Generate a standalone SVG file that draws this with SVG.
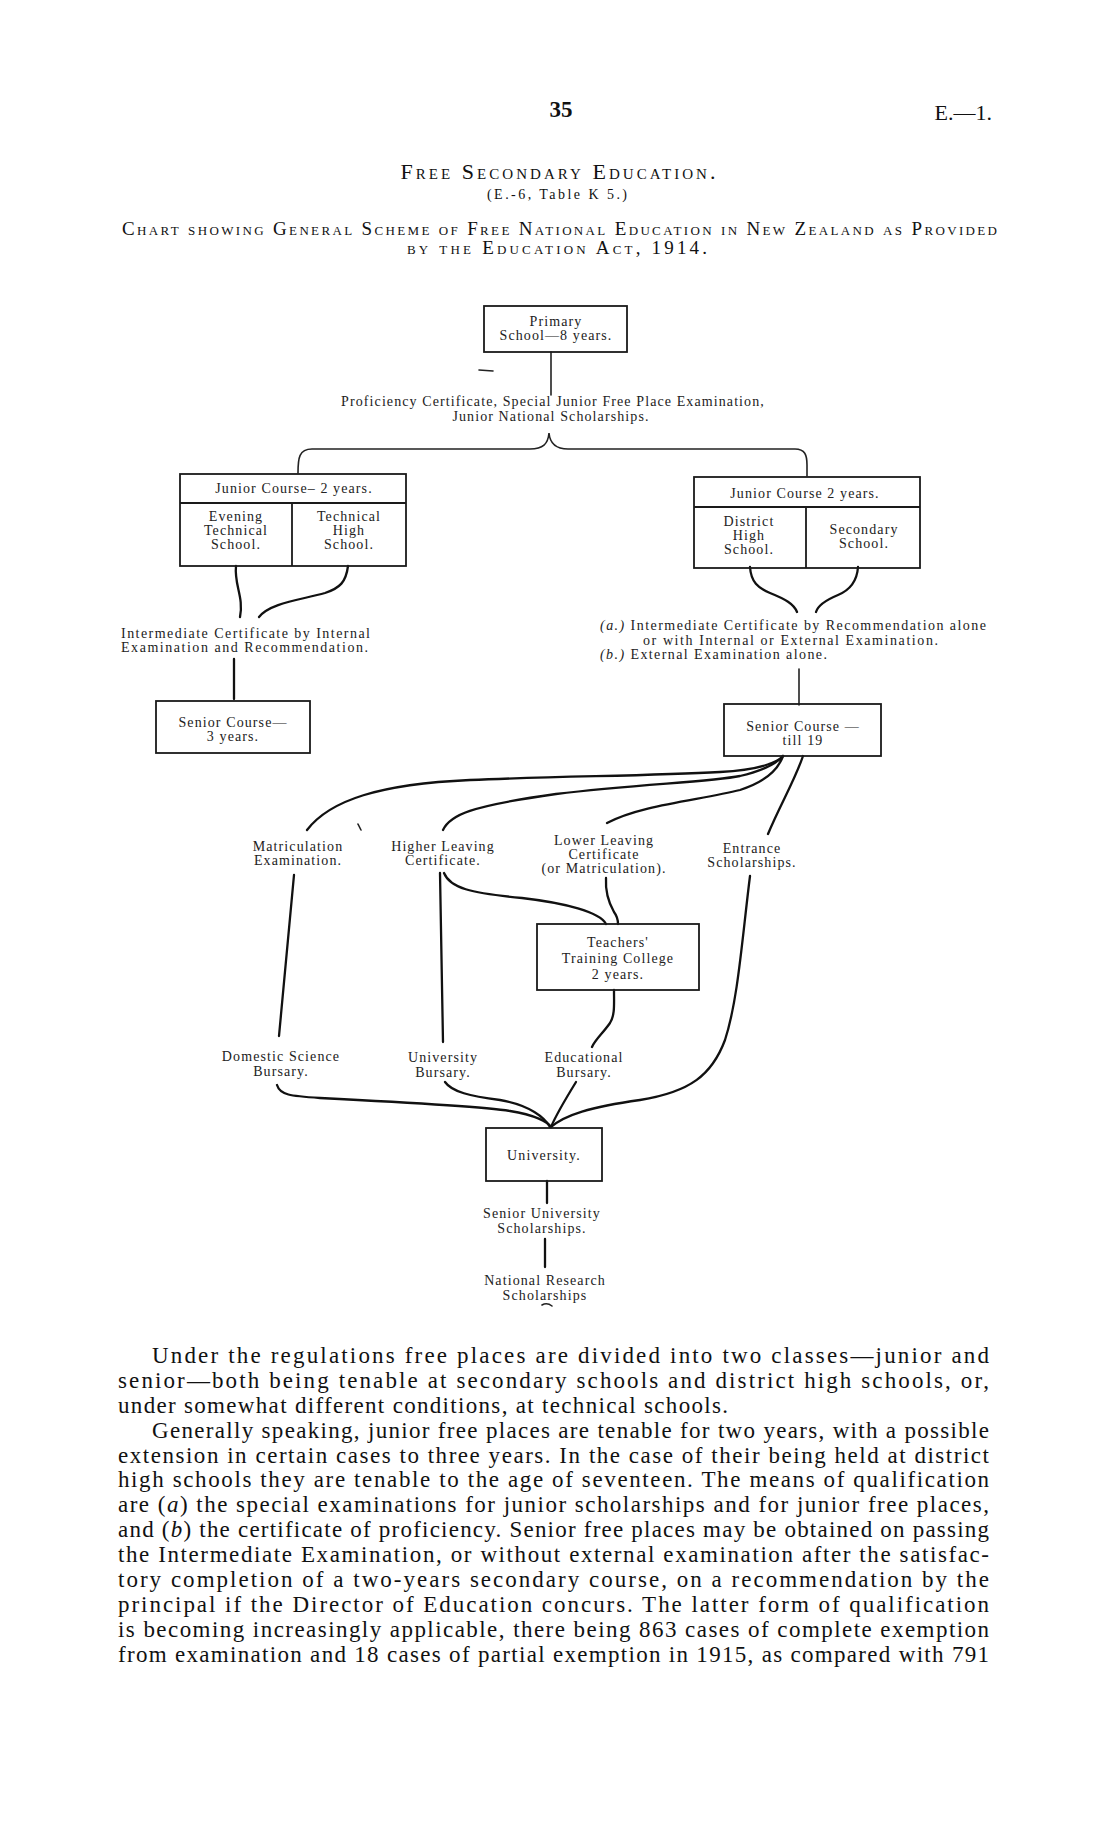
<svg xmlns="http://www.w3.org/2000/svg" width="1114" height="1835" viewBox="0 0 1114 1835">
<style>
.box{fill:none;stroke:#1a1a1a;stroke-width:1.8}
.ln{fill:none;stroke:#111;stroke-width:2.3;stroke-linecap:round}
.thin{fill:none;stroke:#222;stroke-width:1.6;stroke-linecap:round}
.lbl{font-family:"Liberation Serif",serif;font-size:14px;letter-spacing:1.1px;fill:#222;text-anchor:middle}
.lbs{font-family:"Liberation Serif",serif;font-size:14px;letter-spacing:1px;fill:#222}
.body{font-family:"Liberation Serif",serif;font-size:23px;fill:#111}
.hd{font-family:"Liberation Serif",serif;fill:#111}
.sc{font-variant:small-caps}
</style>
<rect width="1114" height="1835" fill="#fff"/>
<g id="header">
<text class="hd" x="561" y="117" font-size="23" font-weight="bold" text-anchor="middle">35</text>
<text class="hd" x="992" y="120" font-size="22" text-anchor="end">E.—1.</text>
<text class="hd sc" x="558" y="179" font-size="22" text-anchor="middle" textLength="315" lengthAdjust="spacing">Free Secondary Education.</text>
<text class="hd" x="557" y="199" font-size="14" text-anchor="middle" textLength="140" lengthAdjust="spacing">(E.-6, Table K 5.)</text>
<text class="hd sc" x="122" y="235" font-size="19" textLength="875" lengthAdjust="spacing">Chart showing General Scheme of Free National Education in New Zealand as Provided</text>
<text class="hd sc" x="557" y="254" font-size="19" text-anchor="middle" textLength="300" lengthAdjust="spacing">by the Education Act, 1914.</text>
</g>
<g id="connectors">
<path class="thin" d="M551 352 V395"/>
<path class="thin" d="M298 473 C298 458 299 449 312 449 L530 449 C543 449 548 444 549 433 C550 444 556 449 568 449 L795 449 C805 449 807 455 807 465 L807 476"/>
<path class="ln" d="M236 566 C234 585 244 597 240 617"/>
<path class="ln" d="M348 566 C346 582 340 588 325 593 C300 600 270 603 259 617"/>
<path class="ln" d="M234 659 V699"/>
<path class="ln" d="M750 567 C751 582 758 588 770 593 C785 599 794 604 797 612"/>
<path class="ln" d="M858 567 C857 582 850 590 838 595 C826 600 818 605 816 612"/>
<path class="thin" d="M799 669 V705"/>
<path class="ln" d="M307 830 C330 800 380 784 470 780 C560 776 650 776 720 772 C760 770 778 762 783 756"/>
<path class="ln" d="M443 830 C450 815 470 806 556 794 C640 784 710 782 740 776 C765 770 778 762 783 756"/>
<path class="ln" d="M607 823 C640 805 700 800 740 790 C765 782 778 770 783 756"/>
<path class="ln" d="M803 756 C795 780 780 805 768 834"/>
<path class="ln" d="M294 875 L279 1036"/>
<path class="ln" d="M440 873 L443 1042"/>
<path class="ln" d="M444 873 C450 888 470 893 522 898 C565 903 600 912 606 924"/>
<path class="ln" d="M606 878 C605 895 610 905 614 912 C617 916 618 920 618 924"/>
<path class="ln" d="M614 990 C614 1005 615 1015 610 1023 C603 1033 595 1040 592 1047"/>
<path class="ln" d="M750 876 C742 940 738 1000 725 1040 C712 1075 690 1092 640 1100 C590 1107 565 1115 551 1127"/>
<path class="ln" d="M277 1085 C280 1095 290 1096 320 1098 C400 1102 480 1106 510 1111 C535 1115 548 1122 551 1127"/>
<path class="ln" d="M445 1082 C452 1092 470 1096 500 1100 C530 1105 545 1118 550 1127"/>
<path class="ln" d="M576 1082 C568 1095 556 1115 551 1127"/>
<path class="ln" d="M547 1181 V1203"/>
<path class="ln" d="M545 1239 V1267"/>
<path class="thin" d="M479 370 L493 371"/>
<path class="thin" d="M358 824 L361 830"/>
<path class="thin" d="M542 1305 Q547 1302 552 1306"/>
</g>
<g id="primary">
<rect class="box" x="484" y="306" width="143" height="46"/>
<text class="lbl" x="556" y="326">Primary</text>
<text class="lbl" x="556" y="340">School—8 years.</text>
</g>
<g id="proficiency">
<text class="lbl" x="553" y="406">Proficiency Certificate, Special Junior Free Place Examination,</text>
<text class="lbl" x="551" y="421">Junior National Scholarships.</text>
</g>
<g id="junior-left">
<rect class="box" x="180" y="474" width="226" height="92"/>
<path class="box" d="M180 503 H406 M292 503 V566"/>
<text class="lbl" x="294" y="493">Junior Course– 2 years.</text>
<text class="lbl" x="236"><tspan x="236" y="521">Evening</tspan><tspan x="236" y="535">Technical</tspan><tspan x="236" y="549">School.</tspan></text>
<text class="lbl" x="349"><tspan x="349" y="521">Technical</tspan><tspan x="349" y="535">High</tspan><tspan x="349" y="549">School.</tspan></text>
</g>
<g id="junior-right">
<rect class="box" x="694" y="477" width="226" height="91"/>
<path class="box" d="M694 507 H920 M806 507 V568"/>
<text class="lbl" x="805" y="498">Junior Course  2 years.</text>
<text class="lbl" x="749"><tspan x="749" y="526">District</tspan><tspan x="749" y="540">High</tspan><tspan x="749" y="554">School.</tspan></text>
<text class="lbl" x="864"><tspan x="864" y="534">Secondary</tspan><tspan x="864" y="548">School.</tspan></text>
</g>
<g id="intermediate-left">
<text class="lbs" x="121" y="638" textLength="250" lengthAdjust="spacing">Intermediate Certificate by Internal</text>
<text class="lbs" x="121" y="652" textLength="248" lengthAdjust="spacing">Examination and Recommendation.</text>
</g>
<g id="intermediate-right">
<text class="lbs" x="600" y="630" textLength="387" lengthAdjust="spacing"><tspan font-style="italic">(a.)</tspan> Intermediate Certificate by Recommendation alone</text>
<text class="lbs" x="643" y="645" textLength="296" lengthAdjust="spacing">or with Internal or External Examination.</text>
<text class="lbs" x="600" y="659" textLength="228" lengthAdjust="spacing"><tspan font-style="italic">(b.)</tspan> External Examination alone.</text>
</g>
<g id="senior-left">
<rect class="box" x="156" y="701" width="154" height="52"/>
<text class="lbl" x="233" y="727">Senior Course—</text>
<text class="lbl" x="233" y="741">3 years.</text>
</g>
<g id="senior-right">
<rect class="box" x="724" y="704" width="157" height="52"/>
<text class="lbl" x="803" y="731">Senior Course —</text>
<text class="lbl" x="803" y="745">till 19</text>
</g>
<g id="matriculation">
<text class="lbl" x="298"><tspan x="298" y="851">Matriculation</tspan><tspan x="298" y="865">Examination.</tspan></text>
</g>
<g id="higher-leaving">
<text class="lbl" x="443"><tspan x="443" y="851">Higher Leaving</tspan><tspan x="443" y="865">Certificate.</tspan></text>
</g>
<g id="lower-leaving">
<text class="lbl" x="604"><tspan x="604" y="845">Lower Leaving</tspan><tspan x="604" y="859">Certificate</tspan><tspan x="604" y="873">(or Matriculation).</tspan></text>
</g>
<g id="entrance">
<text class="lbl" x="752"><tspan x="752" y="853">Entrance</tspan><tspan x="752" y="867">Scholarships.</tspan></text>
</g>
<g id="teachers">
<rect class="box" x="537" y="924" width="162" height="66"/>
<text class="lbl" x="618"><tspan x="618" y="947">Teachers'</tspan><tspan x="618" y="963">Training College</tspan><tspan x="618" y="979">2 years.</tspan></text>
</g>
<g id="domestic">
<text class="lbl" x="281"><tspan x="281" y="1061">Domestic Science</tspan><tspan x="281" y="1076">Bursary.</tspan></text>
</g>
<g id="univ-bursary">
<text class="lbl" x="443"><tspan x="443" y="1062">University</tspan><tspan x="443" y="1077">Bursary.</tspan></text>
</g>
<g id="educational">
<text class="lbl" x="584"><tspan x="584" y="1062">Educational</tspan><tspan x="584" y="1077">Bursary.</tspan></text>
</g>
<g id="university">
<rect class="box" x="486" y="1128" width="116" height="53"/>
<text class="lbl" x="544" y="1160">University.</text>
</g>
<g id="senior-univ">
<text class="lbl" x="542"><tspan x="542" y="1218">Senior University</tspan><tspan x="542" y="1233">Scholarships.</tspan></text>
</g>
<g id="national-research">
<text class="lbl" x="545"><tspan x="545" y="1285">National Research</tspan><tspan x="545" y="1300">Scholarships</tspan></text>
</g>
<g id="body">
<text class="body" x="152" y="1363" textLength="837" lengthAdjust="spacing">Under the regulations free places are divided into two classes—junior and</text>
<text class="body" x="118" y="1388" textLength="871" lengthAdjust="spacing">senior—both being tenable at secondary schools and district high schools, or,</text>
<text class="body" x="118" y="1413" textLength="610" lengthAdjust="spacing">under somewhat different conditions, at technical schools.</text>
<text class="body" x="152" y="1438" textLength="837" lengthAdjust="spacing">Generally speaking, junior free places are tenable for two years, with a possible</text>
<text class="body" x="118" y="1463" textLength="871" lengthAdjust="spacing">extension in certain cases to three years.  In the case of their being held at district</text>
<text class="body" x="118" y="1487" textLength="871" lengthAdjust="spacing">high schools they are tenable to the age of seventeen.  The means of qualification</text>
<text class="body" x="118" y="1512" textLength="871" lengthAdjust="spacing">are (<tspan font-style="italic">a</tspan>) the special examinations for junior scholarships and for junior free places,</text>
<text class="body" x="118" y="1537" textLength="871" lengthAdjust="spacing">and (<tspan font-style="italic">b</tspan>) the certificate of proficiency.  Senior free places may be obtained on passing</text>
<text class="body" x="118" y="1562" textLength="871" lengthAdjust="spacing">the Intermediate Examination, or without external examination after the satisfac-</text>
<text class="body" x="118" y="1587" textLength="871" lengthAdjust="spacing">tory completion of a two-years secondary course, on a recommendation by the</text>
<text class="body" x="118" y="1612" textLength="871" lengthAdjust="spacing">principal if the Director of Education concurs.  The latter form of qualification</text>
<text class="body" x="118" y="1637" textLength="871" lengthAdjust="spacing">is becoming increasingly applicable, there being 863 cases of complete exemption</text>
<text class="body" x="118" y="1662" textLength="871" lengthAdjust="spacing">from examination and 18 cases of partial exemption in 1915, as compared with 791</text>
</g>
</svg>
